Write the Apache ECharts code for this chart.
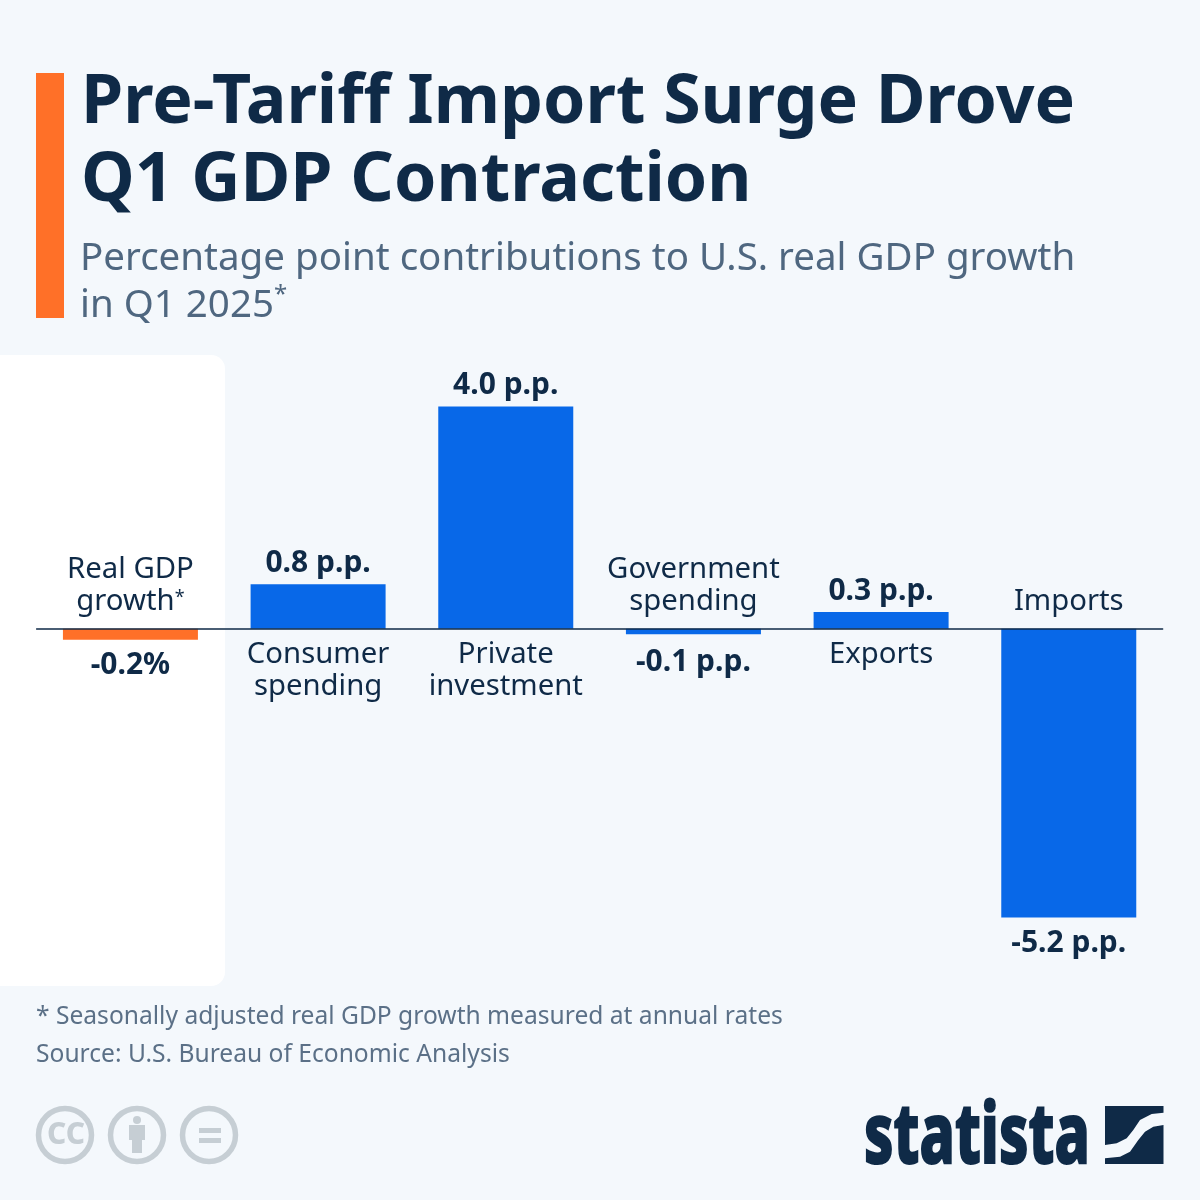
<!DOCTYPE html>
<html><head><meta charset="utf-8">
<style>html,body{margin:0;padding:0;background:#f4f8fc}#c{width:1200px;height:1200px}</style>
<script src="https://cdn.jsdelivr.net/npm/echarts@6/dist/echarts.min.js"></script>
</head><body><div id="c"></div>
<script>
const categories = ['Real GDP\ngrowth{sup|*}', 'Consumer\nspending', 'Private\ninvestment', 'Government\nspending', 'Exports', 'Imports'];
const values = [-0.2, 0.8, 4.0, -0.1, 0.3, -5.2];
const valueLabels = ['-0.2%', '0.8 p.p.', '4.0 p.p.', '-0.1 p.p.', '0.3 p.p.', '-5.2 p.p.'];
const titleText = 'Pre-Tariff Import Surge Drove\nQ1 GDP Contraction';
const subtitleText = 'Percentage point contributions to U.S. real GDP growth\nin Q1 2025{sup|*}';
const noteText = '* Seasonally adjusted real GDP growth measured at annual rates';
const sourceText = 'Source: U.S. Bureau of Economic Analysis';

const NAVY = '#0f2a47', BLUE = '#0868e8', ORANGE = '#ff7028', GREY = '#c6ced4', FONT = '"Noto Sans"';
const chart = echarts.init(document.getElementById('c'), null, {renderer: 'canvas'});

function ring(cx) {
  return {type: 'circle', silent: true, shape: {cx, cy: 1135, r: 26.5},
    style: {fill: 'none', stroke: GREY, lineWidth: 5.5}};
}

chart.setOption({
  backgroundColor: '#f4f8fc',
  animation: false,
  title: [
    {text: titleText, left: 81, top: 65, padding: 0,
     textStyle: {fontFamily: FONT, fontSize: 68, fontWeight: 700, color: NAVY, lineHeight: 78}},
    {text: subtitleText, left: 80, top: 236, padding: 0,
     textStyle: {fontFamily: FONT, fontSize: 38.5, fontWeight: 400, color: '#4f6780', lineHeight: 47,
       rich: {sup: {fontFamily: FONT, fontSize: 24, color: '#4f6780', verticalAlign: 'top', lineHeight: 47, padding: [0, 0, 16, 0]}}}},
    {text: noteText, left: 36, top: 1002, padding: 0,
     textStyle: {fontFamily: FONT, fontSize: 24.6, fontWeight: 400, color: '#5b7087', lineHeight: 30}},
    {text: sourceText, left: 36, top: 1040, padding: 0,
     textStyle: {fontFamily: FONT, fontSize: 24.6, fontWeight: 400, color: '#5b7087', lineHeight: 30}}
  ],
  grid: {left: 36.6, right: 37.4, top: 406.5, height: 511},
  xAxis: {type: 'category', data: categories, position: 'bottom',
    axisLine: {onZero: true, lineStyle: {color: NAVY, width: 1.5}},
    axisTick: {show: false}, axisLabel: {show: false}, z: 10},
  yAxis: {type: 'value', min: -5.2, max: 4, show: false, splitLine: {show: false}},
  graphic: [
    {type: 'rect', z: -10, silent: true, shape: {x: -20, y: 355, width: 245, height: 631, r: 14}, style: {fill: '#ffffff'}},
    {type: 'rect', silent: true, shape: {x: 36, y: 73, width: 28, height: 245}, style: {fill: ORANGE}},
    ring(65), ring(137), ring(209),
    {type: 'text', silent: true, x: 47, y: 1120, style: {text: 'CC', fill: GREY, font: `800 30px ${FONT}`}},
    {type: 'circle', silent: true, shape: {cx: 137, cy: 1120, r: 4}, style: {fill: GREY}},
    {type: 'rect', silent: true, shape: {x: 129, y: 1125, width: 16, height: 15}, style: {fill: GREY}},
    {type: 'rect', silent: true, shape: {x: 132, y: 1140, width: 10, height: 13}, style: {fill: GREY}},
    {type: 'rect', silent: true, shape: {x: 199, y: 1128, width: 22, height: 5}, style: {fill: GREY}},
    {type: 'rect', silent: true, shape: {x: 199, y: 1138, width: 22, height: 5}, style: {fill: GREY}},
    {type: 'text', silent: true, x: 864, y: 1098, scaleX: 0.70, style: {text: 'statista', fill: NAVY, stroke: NAVY, lineWidth: 2, font: `800 83px ${FONT}`}},
    {type: 'polygon', silent: true, shape: {points: [[1105,1106],[1163.5,1106],[1163.5,1112.7],[1151.7,1114],[1140,1120],[1133.3,1130],[1126.7,1138.3],[1116.7,1143.3],[1105,1145]]}, style: {fill: NAVY}},
    {type: 'polygon', silent: true, shape: {points: [[1163.5,1125],[1153.3,1126.7],[1145,1131.7],[1138.3,1140],[1130,1151.7],[1120,1156.7],[1105,1158.3],[1105,1164],[1163.5,1164]]}, style: {fill: NAVY}}
  ],
  series: [
    {type: 'bar', barWidth: 135, z: 2,
     data: values.map((v, i) => ({
       value: v,
       itemStyle: {color: i === 0 ? ORANGE : BLUE},
       label: {show: true, formatter: valueLabels[i], position: v < 0 ? 'bottom' : 'top', distance: v === -0.1 ? 13 : v < 0 ? 11 : 6,
         fontFamily: FONT, fontSize: 30, fontWeight: 700, color: NAVY}
     }))},
    {type: 'scatter', symbolSize: 0, z: 3, silent: true, itemStyle: {opacity: 1},
     data: values.map((v, i) => ({
       value: [categories[i], 0],
       label: {show: true, formatter: categories[i], position: v < 0 ? 'top' : 'bottom', distance: v < 0 ? 11 : 10,
         fontFamily: FONT, fontSize: 29.3, fontWeight: 400, color: NAVY, opacity: 1, lineHeight: 32, align: 'center',
         rich: {sup: {fontFamily: FONT, fontSize: 18, color: NAVY, padding: [0, 0, 8, 0], lineHeight: 32}}}
     }))}
  ]
});
</script></body></html>
